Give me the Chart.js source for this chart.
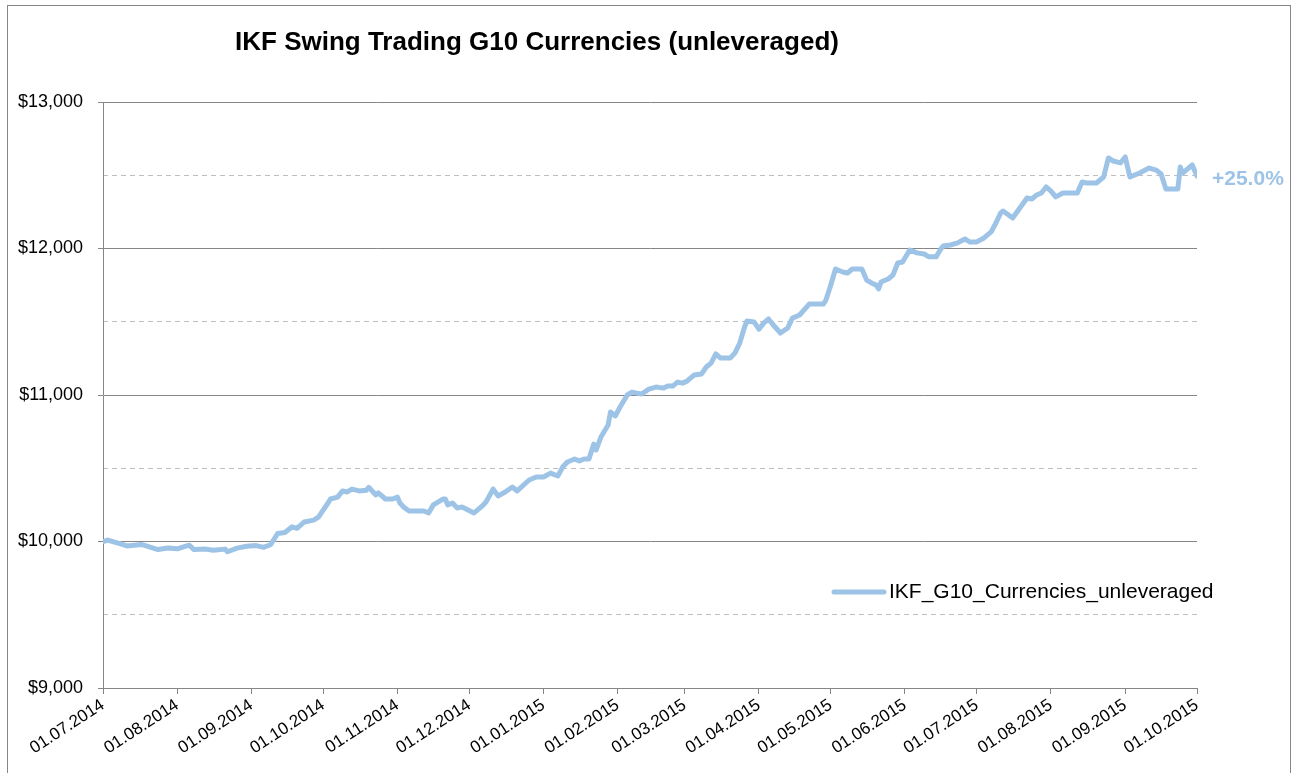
<!DOCTYPE html>
<html>
<head>
<meta charset="utf-8">
<script src="https://cdn.jsdelivr.net/npm/chart.js@4"></script>
<style>
  body { margin: 0; background: #fff; }
  canvas { display: block; }
</style>
</head>
<body>
<canvas id="chart" width="1298" height="773"></canvas>
<script>
// DATA - days counted from 01.07.2014, account value in USD
const days = [
  0, 2, 7, 10, 16, 18, 23, 27, 31, 36, 38, 43, 46, 51, 52, 56, 60, 64, 67, 70,
  73, 76, 79, 81, 84, 88, 90, 94, 95, 98, 100, 102, 104, 107, 110, 111, 114, 115, 118, 121,
  123, 124, 126, 128, 134, 136, 138, 142, 143, 144, 146, 148, 150, 155, 158, 160, 163, 165, 168, 171,
  173, 178, 181, 184, 187, 190, 192, 194, 197, 199, 201, 203, 205, 206, 208, 211, 212, 214, 216, 219,
  221, 223, 225, 228, 231, 234, 236, 238, 240, 242, 244, 245, 247, 250, 252, 254, 256, 258, 262, 264,
  266, 268, 269, 272, 274, 276, 278, 280, 283, 286, 288, 291, 295, 301, 302, 304, 306, 309, 311, 313,
  317, 319, 321, 323, 324, 325, 328, 330, 332, 334, 337, 340, 343, 345, 348, 350, 351, 354, 357, 360,
  362, 365, 368, 371, 373, 375, 376, 380, 383, 386, 388, 390, 392, 394, 396, 398, 401, 407, 409, 411,
  415, 418, 420, 422, 425, 427, 429, 433, 437, 440, 442, 444, 449, 450, 451, 455, 457
];
const values = [
  10000, 10010, 9985, 9970, 9980, 9970, 9945, 9955, 9950, 9975, 9945, 9948, 9940, 9948, 9930, 9955, 9968, 9972, 9960, 9978,
  10055, 10062, 10100, 10090, 10133, 10146, 10167, 10263, 10290, 10303, 10345, 10338, 10358, 10345, 10350, 10370, 10318, 10332, 10290, 10290,
  10303, 10263, 10229, 10208, 10208, 10195, 10250, 10290, 10290, 10250, 10263, 10229, 10236, 10195, 10236, 10270, 10358, 10311, 10338, 10372,
  10345, 10420, 10440, 10440, 10467, 10447, 10508, 10543, 10563, 10550, 10563, 10563, 10665, 10625, 10713, 10795, 10884, 10857, 10918, 11000,
  11020, 11013, 11007, 11040, 11054, 11047, 11061, 11061, 11088, 11081, 11095, 11110, 11136, 11143, 11191, 11218, 11280, 11252, 11252, 11287,
  11355, 11464, 11505, 11498, 11450, 11491, 11519, 11478, 11423, 11457, 11525, 11546, 11621, 11621, 11648, 11750, 11860, 11840, 11833, 11860,
  11860, 11785, 11765, 11750, 11724, 11771, 11792, 11819, 11901, 11908, 11990, 11970, 11963, 11943, 11943, 11997, 12017, 12024, 12038, 12065,
  12045, 12045, 12072, 12113, 12174, 12243, 12256, 12208, 12276, 12345, 12338, 12365, 12379, 12420, 12392, 12352, 12379, 12379, 12454, 12447,
  12447, 12488, 12618, 12597, 12584, 12625, 12488, 12515, 12549, 12535, 12509, 12406, 12406, 12556, 12515, 12570, 12495
];
const tickLabels = [
  "01.07.2014", "01.08.2014", "01.09.2014", "01.10.2014", "01.11.2014", "01.12.2014",
  "01.01.2015", "01.02.2015", "01.03.2015", "01.04.2015", "01.05.2015", "01.06.2015",
  "01.07.2015", "01.08.2015", "01.09.2015", "01.10.2015"
];
const majorTicks = [9000, 10000, 11000, 12000, 13000];
const minorTicks = [9500, 10500, 11500, 12500];
const seriesName = "IKF_G10_Currencies_unleveraged";
const chartTitle = "IKF Swing Trading G10 Currencies (unleveraged)";
const gainLabel = "+25.0%";

const LINE_COLOR = "#9DC3E6";
const AXIS_COLOR = "#868686";
const FONT = "'Liberation Sans', Arial, sans-serif";

function dayOffset(label) {
  const [d, m, y] = label.split(".").map(Number);
  return Math.round((Date.UTC(y, m - 1, d) - Date.UTC(2014, 6, 1)) / 86400000);
}
const tickDays = tickLabels.map(dayOffset);

// EXTRA DRAWING: frame, title, legend, gain label
const decorations = {
  id: "decorations",
  beforeDraw(chart) {
    const ctx = chart.ctx;
    ctx.save();
    ctx.fillStyle = "#fff";
    ctx.fillRect(0, 0, chart.width, chart.height);
    ctx.strokeStyle = AXIS_COLOR;
    ctx.lineWidth = 1;
    ctx.strokeRect(7.5, 5.5, 1283, 800);
    ctx.restore();
  },
  afterDraw(chart) {
    const ctx = chart.ctx;
    const { x, y } = chart.scales;
    ctx.save();

    ctx.font = "bold 26px " + FONT;
    ctx.fillStyle = "#000";
    ctx.textAlign = "center";
    ctx.textBaseline = "middle";
    ctx.fillText(chartTitle, 537, 43);

    ctx.strokeStyle = LINE_COLOR;
    ctx.lineWidth = 5;
    ctx.lineCap = "round";
    ctx.beginPath();
    ctx.moveTo(834, 592);
    ctx.lineTo(884, 592);
    ctx.stroke();
    ctx.font = "21px " + FONT;
    ctx.textAlign = "left";
    ctx.fillText(seriesName, 889, 592);

    const last = values.length - 1;
    ctx.font = "bold 21px " + FONT;
    ctx.fillStyle = LINE_COLOR;
    ctx.fillText(gainLabel, x.getPixelForValue(days[last]) + 15, y.getPixelForValue(values[last]) + 3);
    ctx.restore();
  },
};

new Chart(document.getElementById("chart"), {
  type: "line",
  data: {
    datasets: [
      {
        label: seriesName,
        data: days.map((d, i) => ({ x: d, y: values[i] })),
        borderColor: LINE_COLOR,
        borderWidth: 5,
        pointRadius: 0,
        tension: 0,
        borderJoinStyle: "round",
        borderCapStyle: "round",
      },
    ],
  },
  options: {
    responsive: false,
    animation: false,
    devicePixelRatio: 1,
    layout: { padding: { top: 102, right: 101, left: 0, bottom: 0 } },
    plugins: { legend: { display: false }, tooltip: { enabled: false } },
    scales: {
      x: {
        type: "linear",
        min: 0,
        max: tickDays[tickDays.length - 1],
        afterBuildTicks: (scale) => {
          scale.ticks = tickDays.map((d) => ({ value: d }));
        },
        afterFit: (scale) => {
          scale.height = 85;
        },
        ticks: {
          autoSkip: false,
          minRotation: 33,
          maxRotation: 33,
          color: "#000",
          font: { family: FONT, size: 17 },
          padding: 1,
          callback: (value) => tickLabels[tickDays.indexOf(value)],
        },
        grid: { drawOnChartArea: false, tickLength: 6, tickColor: AXIS_COLOR },
        border: { color: AXIS_COLOR, width: 1 },
      },
      y: {
        min: 9000,
        max: 13000,
        afterBuildTicks: (scale) => {
          scale.ticks = majorTicks.map((v) => ({ value: v }));
        },
        afterFit: (scale) => {
          scale.width = 103;
        },
        ticks: {
          color: "#000",
          font: { family: FONT, size: 18 },
          padding: 15,
          callback: (value) => "$" + value.toLocaleString("en-US"),
        },
        grid: { color: AXIS_COLOR, tickLength: 5, tickColor: AXIS_COLOR },
        border: { color: AXIS_COLOR, width: 1 },
      },
      yMinor: {
        position: "right",
        min: 9000,
        max: 13000,
        afterBuildTicks: (scale) => {
          scale.ticks = minorTicks.map((v) => ({ value: v }));
        },
        afterFit: (scale) => {
          scale.width = 0;
        },
        ticks: { display: false },
        grid: { color: "#BFBFBF", drawTicks: false },
        border: { display: false, dash: [5, 4] },
      },
    },
  },
  plugins: [decorations],
});
</script>
</body>
</html>
